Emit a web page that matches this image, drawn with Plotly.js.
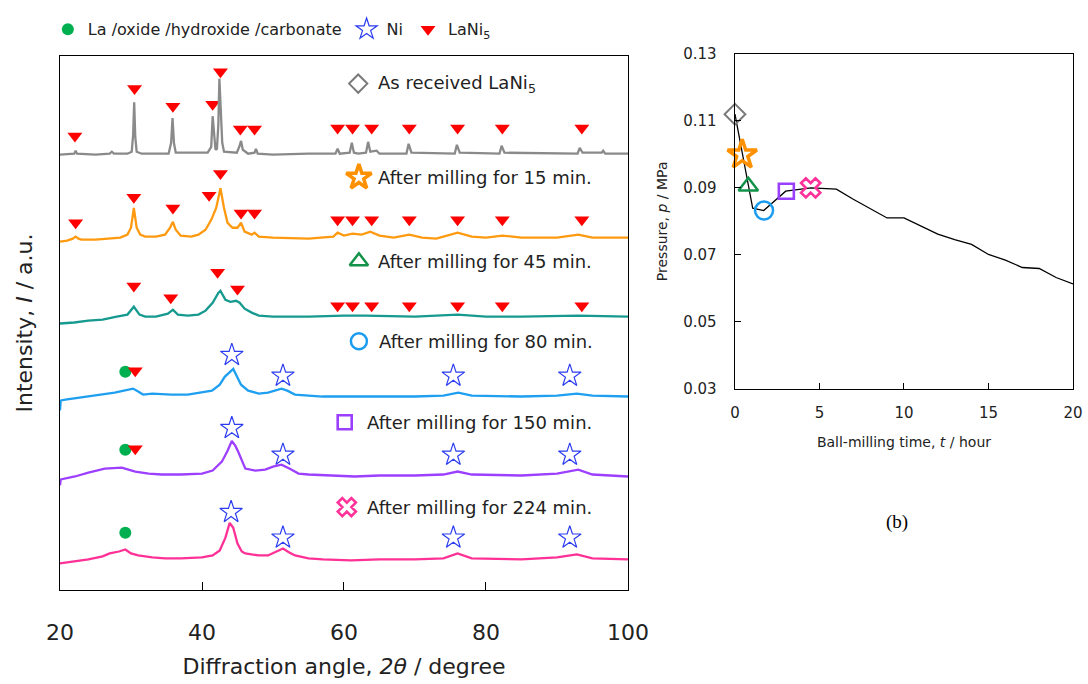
<!DOCTYPE html>
<html><head><meta charset="utf-8">
<script src="https://cdn.plot.ly/plotly-3.0.1.min.js"></script>
<style>html,body{margin:0;padding:0;background:#fff}#chart{width:1088px;height:684px}</style>
</head><body><div id="chart"></div>
<script>
// ---------- XRD patterns (2θ in degree, intensity in a.u. above each pattern's own baseline) ----------
const angleAsReceived = [20,21.5,22.0,22.2,22.4,25,27.0,27.3,27.6,29.5,30.1,30.3,30.45,30.6,30.8,31.5,35.3,35.65,35.85,36.05,36.3,40.8,41.3,41.5,41.7,41.9,42.1,42.3,42.45,42.6,42.7,42.85,43.1,44.9,45.3,45.5,45.75,46.5,47.4,47.6,47.85,50,55,58.8,59.1,59.4,60.8,61.1,61.4,62.0,63.1,63.4,63.7,64.6,65,68.8,69.1,69.5,75.6,75.9,76.3,81.9,82.2,82.6,92.9,93.2,93.6,96.3,96.5,96.8,100];
const intAsReceived   = [0,1,1,4,1,0,1,3,1,1,3,20,53,18,3,1,1,12,37,12,2,2,8,39,20,5,6,30,77,45,32,12,3,2,9,14,5,1,2,6,1,0,1,1,6,1,2,12,2,1,2,13,3,4,1,1,11,2,1,10,2,1,9,2,1,7,2,2,4,1,1];

const angle15 = [20,21,21.8,22.2,22.6,23,25,27,28.5,29.5,30.0,30.4,30.8,31.3,32,33.5,34.8,35.5,35.9,36.3,37,38.5,39.5,40.5,41.3,42.0,42.6,43.1,43.6,44.3,45.0,45.5,46.0,47.0,47.4,48,50,55,58.5,59.1,60,61.2,62.5,63.7,65,67,69.2,71,73,76,78,80,82.3,85,90,93,95,100];
const int15   = [-4,-3,-1,1,-1,-2,-2,-1,0,3,10,30,10,3,1,1,3,10,16,8,2,1,3,8,18,30,50,30,15,10,10,15,6,3,5,1,0,-1,1,5,2,4,3,6,2,0,3,0,-1,5,1,0,2,0,0,3,0,0];

const angle45 = [20,22,24,26,28,29.5,30.4,31.2,32,33.5,35.2,35.9,36.6,38,39.5,40.5,41.5,42.3,42.6,43.3,44.0,44.8,45.3,46,47,48,50,55,60,63,70,76,80,85,93,100];
const int45   = [-7,-6,-4,-3,0,2,10,2,0,0,3,7,2,1,2,6,14,24,26,17,15,16,14,8,4,1,0,0,1,1,0,2,0,0,1,0];

const angle80 = [20,20.1,21,24,26,27.7,29,30.3,31,31.7,33,35.7,38,40,41.4,42.5,43.2,44.4,45.0,45.5,46.5,48,49.3,50.5,51.2,52,53.1,55,57,61.5,65,70,74,76.1,78,85,90,92.8,95,100];
const int80   = [-14,-4,-3,0,2,4,6,8,5,2,3,2,2,4,6,12,20,28,20,12,6,3,4,7,8,6,2,1,0,0,0,0,1,4,1,0,1,3,1,0];

const angle150 = [20,20.1,22.1,24,26.3,28.7,30.6,32.5,34.3,37,40,41.5,42.8,43.6,44.2,44.7,45.1,45.6,46.1,47.5,48.9,50,51.2,52.3,53.6,55,57.8,61.5,65,70,74,76,78,85,90,93,95,100];
const int150   = [-10,-4,-1,3,7,8,4,2,1,1,2,5,14,25,35,30,24,15,7,5,6,9,11,7,2,1,0,-1,0,0,1,4,1,0,2,6,1,-1];

const angle224 = [20,22,24,26,27,28.3,29.2,30,31,33,34.8,37,40,41.5,42.5,43.3,43.9,44.4,45,45.6,46.1,48,49.3,50.5,51.4,52.3,53.1,55,57,61,65,70,74,76,78,85,90,92.8,95,100];
const int224   = [-4,-2,0,3,6,8,10,6,4,2,1,1,2,4,9,22,37,32,16,8,6,4,4,8,11,7,4,1,0,-1,0,0,1,6,1,0,2,5,1,0];

// ---------- Phase indicators (2θ, height in plot units) ----------
const lani5Angle  = [22.1,30.5,35.9,41.5,42.6,45.4,47.4,59.1,61.2,63.9,69.2,76.0,82.3,93.5,
                     22.2,30.4,35.9,41.0,42.6,45.5,47.4,59.1,61.2,63.9,69.2,76.0,82.3,93.5,
                     30.4,35.6,42.2,45.0,59.1,61.2,63.9,69.2,76.0,82.3,93.5,
                     30.6,30.6];
const lani5Height = [460,508,490,492,525,467,467,468,468,468,468,468,468,468,
                     372,398,387,400,422,382,382,375,375,375,375,375,375,375,
                     308,296,322,305,288,288,288,288,288,288,288,
                     222,143];
const niAngle  = [44.2,51.4,75.4,91.8, 44.2,51.4,75.4,91.8, 44.1,51.4,75.4,91.8];
const niHeight = [238,217,217,217, 164,137,137,137, 79,53,53,53];
const laAngle  = [29.2,29.2,29.2];
const laHeight = [221,142,58];

// ---------- Sample labels ----------
const sampleLabels = ["As received LaNi<sub>5</sub>","After milling for 15 min.","After milling for 45 min.",
                      "After milling for 80 min.","After milling for 150 min.","After milling for 224 min."];
const sampleColors = ["#8a8a8a","#ff9a10","#16998f","#1e9ff0","#9d3fff","#ff3096"];
const markerColors = ["#7a7a7a","#ff9100","#13934a","#1a9cf0","#9b3fff","#ff3399"];
const markerSymbols = ["diamond-open","star-open","triangle-up-open","circle-open","square-open","x-open"];

// ---------- Pressure during ball milling ----------
const timeH    = [0,0.8,1.05,1.7,3.0,4.5,6,7,8,9,10,11,12,13,14,15,16,17,18,19,20];
const pressure = [0.112,0.0905,0.0839,0.0832,0.089,0.0900,0.0896,0.0866,0.0837,0.081,0.081,0.0785,0.0762,0.0745,0.0731,0.0701,0.0684,0.0662,0.0659,0.0632,0.0613];
const sampleTimeH    = [0,0.43,0.79,1.72,3.04,4.48];
const samplePressure = [0.112,0.0999,0.0905,0.0832,0.089,0.090];

// ---------- layout constants ----------
const offsets = [441,357,277,196,116,31];
const labelMarkerX = [62.0,62.1,62.1,62.1,60.1,60.4];
const labelTextX   = [64.5,64.5,64.5,64.6,62.9,62.9];
const labelY       = [513,418,333,252,170,84];
const labelMarkerSize = [14,19,16,16,14,16];
const plotMarkerSize  = [16,22,17,18,15,17];
const markerLineW     = [2,3.5,2.5,2.5,2.6,2.6];

const patterns = [
  [angleAsReceived,intAsReceived],[angle15,int15],[angle45,int45],
  [angle80,int80],[angle150,int150],[angle224,int224]
];

const traces = [];
traces.push({x:laAngle,y:laHeight,type:'scatter',mode:'markers',name:'La /oxide /hydroxide /carbonate',
  marker:{symbol:'circle',color:'#00b050',size:12},xaxis:'x',yaxis:'y',hoverinfo:'skip'});
traces.push({x:niAngle,y:niHeight,type:'scatter',mode:'markers',name:'Ni',
  marker:{symbol:'star-open',color:'#2b3cf0',size:17,line:{width:1.2,color:'#2b3cf0'}},xaxis:'x',yaxis:'y',hoverinfo:'skip'});
traces.push({x:lani5Angle,y:lani5Height,type:'scatter',mode:'markers',name:'LaNi<sub>5</sub>',
  marker:{symbol:'triangle-down',color:'#ff0000',size:13},xaxis:'x',yaxis:'y',hoverinfo:'skip'});

patterns.forEach((p,i)=>{
  traces.push({x:p[0],y:p[1].map(v=>v+offsets[i]),type:'scatter',mode:'lines',showlegend:false,
    line:{color:sampleColors[i],width:2.3},xaxis:'x',yaxis:'y',name:sampleLabels[i]});
});

traces.push({x:timeH,y:pressure,type:'scatter',mode:'lines',showlegend:false,line:{color:'#000',width:1.3},
  xaxis:'x2',yaxis:'y2',name:'Pressure'});

for(let i=0;i<6;i++){
  traces.push({x:[labelMarkerX[i]],y:[labelY[i]],type:'scatter',mode:'markers',showlegend:false,xaxis:'x',yaxis:'y',
    name:sampleLabels[i],hoverinfo:'skip',
    marker:{symbol:markerSymbols[i],color:markerColors[i],size:labelMarkerSize[i],
      line:{width:markerLineW[i],color:markerColors[i]}}});
  traces.push({x:[sampleTimeH[i]],y:[samplePressure[i]],type:'scatter',mode:'markers',showlegend:false,
    xaxis:'x2',yaxis:'y2',name:sampleLabels[i],cliponaxis:false,
    marker:{symbol:markerSymbols[i],color:markerColors[i],size:plotMarkerSize[i],
      line:{width:markerLineW[i],color:markerColors[i]}}});
}

const font = 'DejaVu Sans, Verdana, sans-serif';
const annotations = sampleLabels.map((t,i)=>({x:labelTextX[i],y:labelY[i],xref:'x',yref:'y',text:t,showarrow:false,
  xanchor:'left',yanchor:'middle',font:{family:font,size:18,color:'#222'}}));
annotations.push({x:(897-60)/1013,y:(590-521)/543,xref:'paper',yref:'paper',text:'(b)',showarrow:false,
  xanchor:'center',yanchor:'middle',font:{family:'Liberation Serif, Times New Roman, serif',size:19,color:'#000'}});

const layout = {
  width:1088,height:684,
  margin:{l:60,r:15,t:47,b:94},
  paper_bgcolor:'#fff',plot_bgcolor:'#fff',
  font:{family:font,color:'#222'},
  showlegend:true,
  legend:{orientation:'h',x:-0.012,y:1.046,xanchor:'left',yanchor:'middle',font:{family:font,size:16,color:'#222'},
    bgcolor:'rgba(0,0,0,0)',itemclick:false,itemdoubleclick:false},
  xaxis:{domain:[0,0.5607],range:[20,100],tickvals:[20,40,60,80,100],ticks:'inside',ticklen:8,tickcolor:'#000',
    showline:true,linecolor:'#000',linewidth:1.3,mirror:true,showgrid:false,zeroline:false,
    tickfont:{family:font,size:22,color:'#222'},ticklabelstandoff:22,
    title:{text:'Diffraction angle, <i>2θ</i> / degree',font:{family:font,size:22,color:'#222'},standoff:15}},
  yaxis:{domain:[0,541/543],range:[0,541],showticklabels:false,ticks:'',showline:true,linecolor:'#000',linewidth:1.3,
    mirror:true,showgrid:false,zeroline:false,
    title:{text:'Intensity, <i>I</i> / a.u.',font:{family:font,size:22,color:'#222'},standoff:20}},
  xaxis2:{domain:[0.6663,1],range:[0,20],tickvals:[0,5,10,15,20],anchor:'y2',ticks:'inside',ticklen:6,tickcolor:'#000',
    showline:true,linecolor:'#000',linewidth:1.3,mirror:true,showgrid:false,zeroline:false,
    tickfont:{family:font,size:15,color:'#222'},ticklabelstandoff:10,
    title:{text:'Ball-milling time, <i>t</i> / hour',font:{family:font,size:14,color:'#222'},standoff:16}},
  yaxis2:{domain:[(590-386)/543,1],range:[0.03,0.13],tickvals:[0.03,0.05,0.07,0.09,0.11,0.13],tickformat:'.2f',
    anchor:'x2',ticks:'inside',ticklen:6,tickcolor:'#000',showline:true,linecolor:'#000',linewidth:1.3,mirror:true,
    showgrid:false,zeroline:false,tickfont:{family:font,size:15,color:'#222'},ticklabelstandoff:14,
    title:{text:'Pressure, <i>p</i> / MPa',font:{family:font,size:14,color:'#222'},standoff:12}},
  annotations:annotations
};

Plotly.newPlot('chart',traces,layout,{displayModeBar:false,staticPlot:true});
</script></body></html>
